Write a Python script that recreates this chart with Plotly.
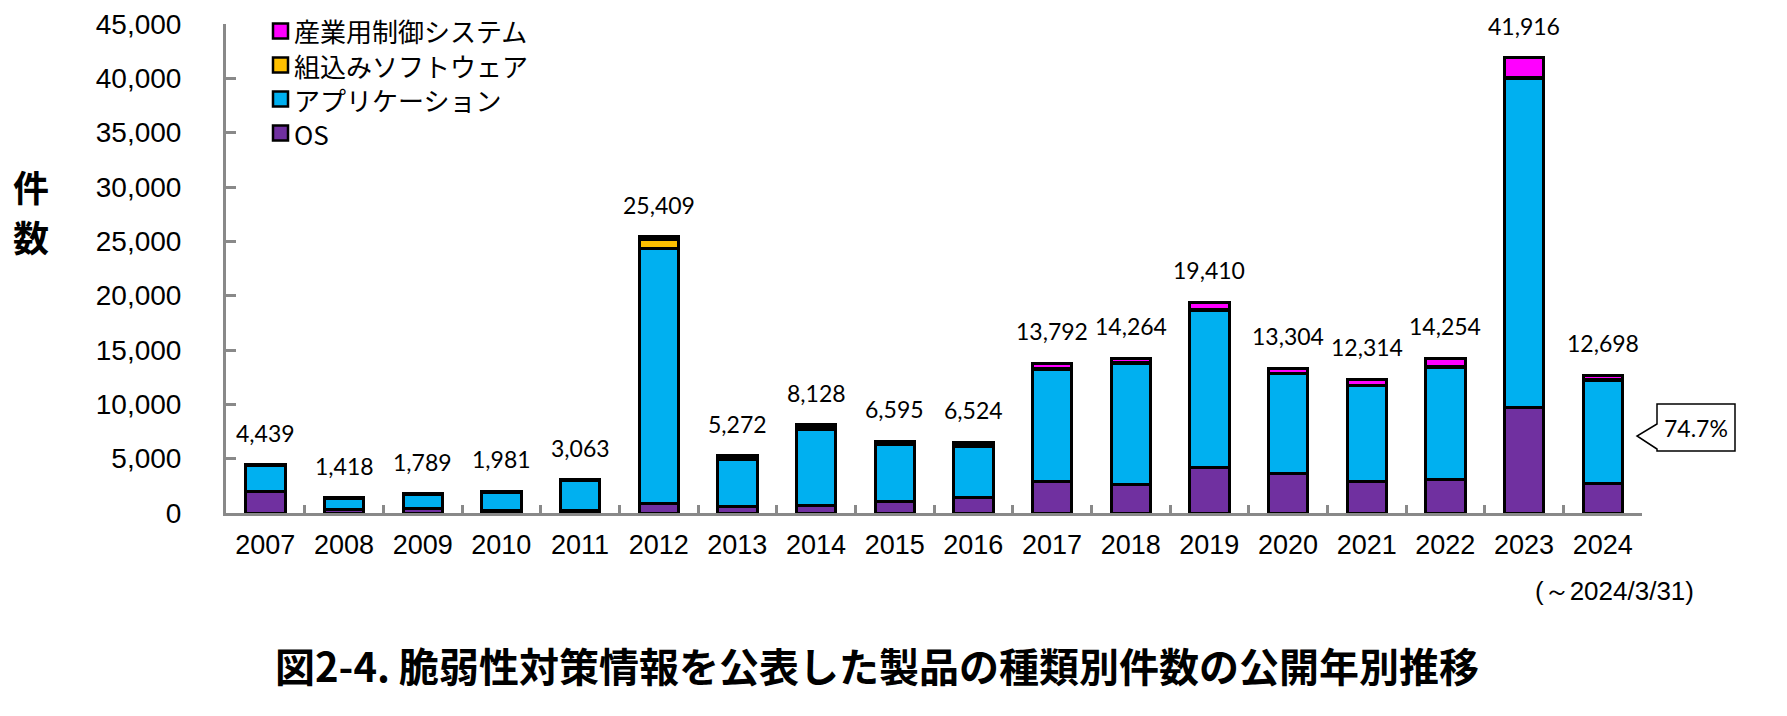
import plotly.graph_objects as go

years = ["2007", "2008", "2009", "2010", "2011", "2012", "2013", "2014", "2015",
         "2016", "2017", "2018", "2019", "2020", "2021", "2022", "2023", "2024"]
totals = [4439, 1418, 1789, 1981, 3063, 25409, 5272, 8128, 6595,
          6524, 13792, 14264, 19410, 13304, 12314, 14254, 41916, 12698]
os_vals = [1950, 300, 420, 250, 200, 900, 600, 700, 1030,
           1430, 2900, 2650, 4150, 3600, 2900, 3050, 9750, 2700]
app_vals = [2380, 1030, 1280, 1650, 2780, 23450, 4300, 6940, 5240,
            4710, 10300, 11100, 14450, 9200, 8800, 10350, 30250, 9486]
emb_vals = [59, 48, 49, 41, 43, 850, 250, 300, 200,
            250, 100, 100, 100, 50, 50, 50, 50, 60]
ind_vals = [t - o - a - e for t, o, a, e in zip(totals, os_vals, app_vals, emb_vals)]

series_names = ["OS", "アプリケーション", "組込みソフトウェア", "産業用制御システム"]
series_colors = ["#7030A0", "#00B0F0", "#FFC000", "#FF00FF"]
series_values = [os_vals, app_vals, emb_vals, ind_vals]

callout_text = "74.7%"
note_text = "(～2024/3/31)"
title_text = "図2-4. 脆弱性対策情報を公表した製品の種類別件数の公開年別推移"
y_title_chars = ["件", "数"]
y_ticks = list(range(0, 45001, 5000))

W, H = 1787, 716
OFF = 8  # page body margin of the browser
PL, PT, PW, PH = 226, 24, 1416, 489  # plot area on screen
ML, MT = PL - OFF, PT - OFF
MR, MB = W - ML - PW, H - MT - PH


def px(x):
    return (x - PL) / PW


def py(y):
    return (PT + PH - y) / PH


JP = "Noto Sans CJK JP"
AR = "Liberation Sans, Arial"
NUM = "Lato"

fig = go.Figure()
for name, color, vals in zip(series_names, series_colors, series_values):
    fig.add_trace(go.Bar(
        x=years, y=vals, name=name, showlegend=False,
        marker=dict(color=color, line=dict(color="black", width=3)),
    ))

# legend (top item = last series)
leg_rows = [31, 65, 99, 133]
for row_y, name, color in zip(leg_rows, series_names[::-1], series_colors[::-1]):
    fig.add_shape(type="rect", xref="paper", yref="paper",
                  x0=px(273), x1=px(288), y0=py(row_y + 7.5), y1=py(row_y - 7.5),
                  fillcolor=color, line=dict(color="black", width=2.5))
    fig.add_annotation(xref="paper", yref="paper", x=px(293), y=py(row_y), text=name,
                       showarrow=False, xanchor="left", yanchor="middle", borderpad=0,
                       font=dict(family=JP, size=26, color="black"))

for i, t in enumerate(totals):
    fig.add_annotation(x=i, y=t, text=f"{t:,}", showarrow=False,
                       yanchor="middle", yshift=32,
                       font=dict(family=NUM, size=23, color="black"))

for i, ch in enumerate(y_title_chars):
    fig.add_annotation(xref="paper", yref="paper", x=px(31), y=py(186 + 50 * i),
                       text=ch, showarrow=False, xanchor="center", yanchor="middle",
                       font=dict(family=JP, size=36, color="black", weight="bold"))

fig.add_annotation(xref="paper", yref="paper", x=px(877), y=py(665), text=title_text,
                   showarrow=False, xanchor="center", yanchor="middle",
                   font=dict(family=JP, size=40, color="black", weight="bold"))

fig.add_annotation(xref="paper", yref="paper", x=px(1614), y=py(591), text=note_text,
                   showarrow=False, xanchor="center", yanchor="middle",
                   font=dict(family=AR, size=26, color="black"))

# callout bubble
bx0, bx1, by0, by1 = 1657, 1735, 404, 451
tipx, tipy = 1637, 436
w0, w1 = 424, 449
path = (f"M {px(bx0)},{py(by0)} L {px(bx1)},{py(by0)} L {px(bx1)},{py(by1)} "
        f"L {px(bx0)},{py(by1)} L {px(bx0)},{py(w1)} L {px(tipx)},{py(tipy)} "
        f"L {px(bx0)},{py(w0)} Z")
fig.add_shape(type="path", xref="paper", yref="paper", path=path,
              line=dict(color="black", width=1.5), fillcolor="white")
fig.add_annotation(xref="paper", yref="paper", x=px((bx0 + bx1) / 2), y=py((by0 + by1) / 2),
                   text=callout_text, showarrow=False, xanchor="center", yanchor="middle",
                   font=dict(family=NUM, size=23, color="black"))

fig.update_layout(
    width=W, height=H,
    margin=dict(l=ML, r=MR, t=MT, b=MB, autoexpand=False),
    barmode="stack", bargap=0.5,
    plot_bgcolor="white", paper_bgcolor="white",
    showlegend=False,
    xaxis=dict(type="category", categoryorder="array", categoryarray=years,
               range=[-0.5, len(years) - 0.5], autorange=False, automargin=False,
               showline=True, linecolor="#898989", linewidth=3,
               ticks="inside", tickson="boundaries", ticklen=8, tickcolor="#898989",
               tickwidth=2.5, showgrid=False, ticklabelstandoff=6, tickangle=0,
               ticklabeloverflow="allow",
               tickfont=dict(family=AR, size=27, color="black")),
    yaxis=dict(range=[0, 45000], autorange=False, automargin=False,
               tickvals=y_ticks, tickformat=",", showline=True,
               linecolor="#898989", linewidth=3, ticks="inside", ticklen=10,
               tickcolor="#898989", tickwidth=2.5, showgrid=False, zeroline=False,
               ticklabelstandoff=36, ticklabeloverflow="allow",
               tickfont=dict(family=AR, size=28, color="black")),
)

fig.write_html("out.html")
